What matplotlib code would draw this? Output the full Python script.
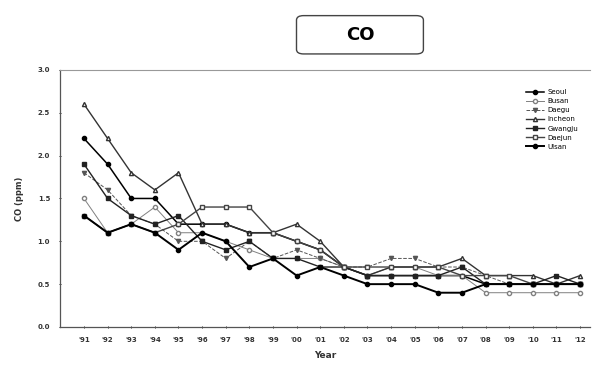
import matplotlib
matplotlib.use("Agg")
import matplotlib.pyplot as plt
from matplotlib.patches import FancyBboxPatch

years = list(range(1991, 2013))
year_labels = ["'%02d" % (y % 100) for y in years]

seoul = [2.2, 1.9, 1.5, 1.5, 1.2, 1.2, 1.2, 1.1, 1.1, 1.0, 0.9, 0.7, 0.6, 0.6, 0.6, 0.6, 0.6, 0.5, 0.5, 0.5, 0.5, 0.5]
busan = [1.5, 1.1, 1.2, 1.4, 1.1, 1.1, 1.0, 0.9, 0.8, 0.8, 0.8, 0.7, 0.6, 0.7, 0.7, 0.6, 0.6, 0.4, 0.4, 0.4, 0.4, 0.4]
daegu = [1.8, 1.6, 1.3, 1.2, 1.0, 1.0, 0.8, 1.0, 0.8, 0.9, 0.8, 0.7, 0.7, 0.8, 0.8, 0.7, 0.7, 0.6, 0.5, 0.5, 0.5, 0.5]
incheon = [2.6, 2.2, 1.8, 1.6, 1.8, 1.2, 1.2, 1.1, 1.1, 1.2, 1.0, 0.7, 0.6, 0.7, 0.7, 0.7, 0.8, 0.6, 0.6, 0.6, 0.5, 0.6]
gwangju = [1.9, 1.5, 1.3, 1.2, 1.3, 1.0, 0.9, 1.0, 0.8, 0.8, 0.7, 0.7, 0.6, 0.6, 0.6, 0.6, 0.7, 0.5, 0.5, 0.5, 0.6, 0.5]
daejun = [1.3, 1.1, 1.2, 1.1, 1.2, 1.4, 1.4, 1.4, 1.1, 1.0, 0.9, 0.7, 0.7, 0.7, 0.7, 0.7, 0.6, 0.6, 0.6, 0.5, 0.5, 0.5]
ulsan = [1.3, 1.1, 1.2, 1.1, 0.9, 1.1, 1.0, 0.7, 0.8, 0.6, 0.7, 0.6, 0.5, 0.5, 0.5, 0.4, 0.4, 0.5, 0.5, 0.5, 0.5, 0.5]

fig = plt.figure(figsize=(5.93, 3.72), dpi=100)
ax = fig.add_axes([0.101, 0.121, 0.894, 0.691])

ms = 3
ax.plot(years, seoul, "-o", color="black", lw=1.1, ms=ms, label="Seoul")
ax.plot(years, busan, "-o", color="gray", lw=0.7, ms=ms, mfc="white", label="Busan")
ax.plot(years, daegu, "--v", color="#555555", lw=0.7, ms=ms, label="Daegu")
ax.plot(years, incheon, "-^", color="#333333", lw=1.0, ms=ms, mfc="white", label="Incheon")
ax.plot(years, gwangju, "-s", color="#222222", lw=1.0, ms=ms - 0.5, label="Gwangju")
ax.plot(years, daejun, "-s", color="#444444", lw=1.0, ms=ms - 0.5, mfc="white", label="Daejun")
ax.plot(years, ulsan, "-o", color="black", lw=1.4, ms=ms, label="Ulsan")

ax.set_xlim(1989.98, 2012.42)
ax.set_ylim(0, 3.0)
ax.set_xticks(years)
ax.set_xticklabels(year_labels, fontsize=5, fontweight="bold", color="#333333")
ax.set_yticks([0, 0.5, 1.0, 1.5, 2.0, 2.5, 3.0])
ax.set_yticklabels(["0.0", "0.5", "1.0", "1.5", "2.0", "2.5", "3.0"], fontsize=5, fontweight="bold", color="#333333")
ax.tick_params(axis="both", length=2, width=0.6, direction="inout", pad=6)
ax.spines["right"].set_visible(False)
ax.spines["top"].set_color("#999999")
for s in ("left", "bottom"):
    ax.spines[s].set_color("#555555")
    ax.spines[s].set_linewidth(0.9)

ax.set_xlabel("Year", fontsize=6.5, fontweight="bold", color="#333333", labelpad=6)
ax.set_ylabel("CO (ppm)", fontsize=6, fontweight="bold", color="#333333", labelpad=10)

leg = ax.legend(loc="upper right", bbox_to_anchor=(0.99, 0.95), fontsize=5, frameon=False,
                handlelength=2.6, labelspacing=0.45, handletextpad=0.5)

# title box
fig.patches.append(FancyBboxPatch((0.50, 0.855), 0.214, 0.103, boxstyle="round,pad=0,rounding_size=0.012",
                                  transform=fig.transFigure, fc="white", ec="#444444", lw=1.0))
fig.text(0.607, 0.906, "CO", ha="center", va="center", fontsize=13, fontweight="bold")

fig.savefig("out.png", dpi=100)
